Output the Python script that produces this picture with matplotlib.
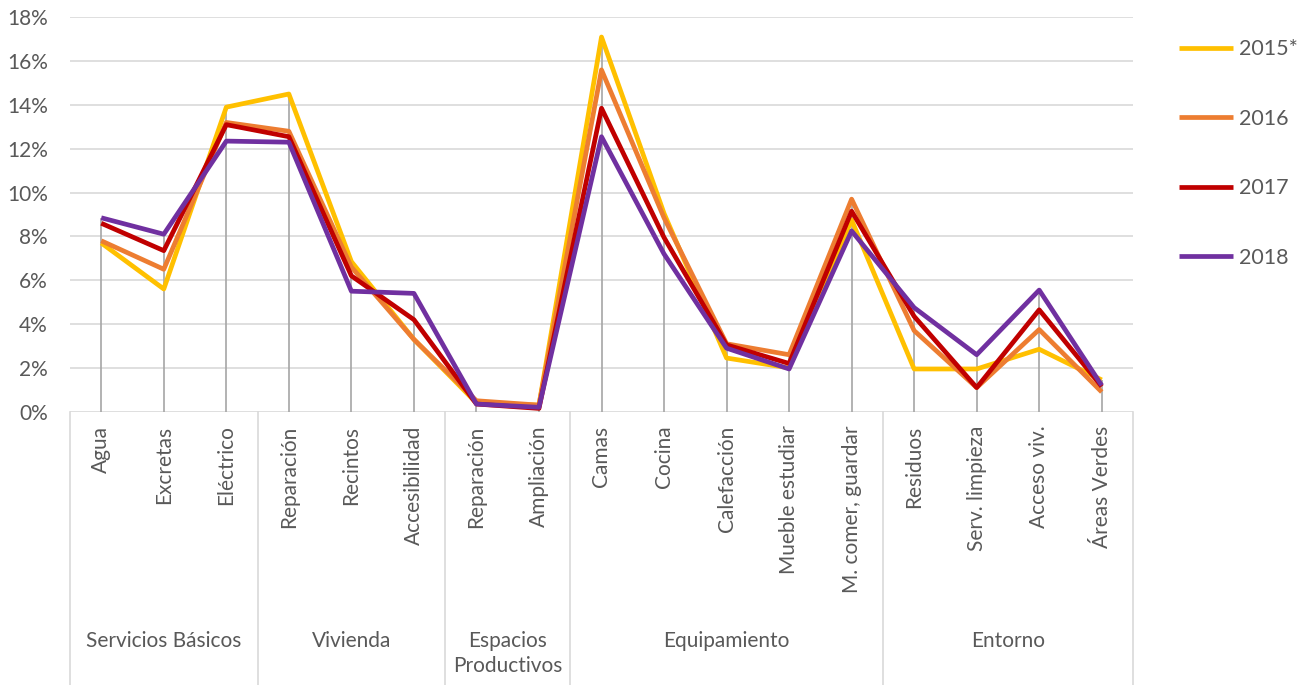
import matplotlib
matplotlib.use("Agg")
import matplotlib.pyplot as plt

plt.rcParams["font.family"] = ["Lato", "DejaVu Sans"]

categories = ["Agua", "Excretas", "Eléctrico", "Reparación", "Recintos",
              "Accesibilidad", "Reparación", "Ampliación", "Camas", "Cocina",
              "Calefacción", "Mueble estudiar", "M. comer, guardar",
              "Residuos", "Serv. limpieza", "Acceso viv.", "Áreas Verdes"]
groups = ["Servicios Básicos", "Vivienda", "Espacios\nProductivos",
          "Equipamiento", "Entorno"]
group_sizes = [3, 3, 2, 5, 4]

series_names = ["2015*", "2016", "2017", "2018"]
y2015 = [7.7, 5.6, 13.9, 14.5, 6.85, 3.3, 0.4, 0.3, 17.1, 9.05, 2.45,
         2.0, 8.75, 1.95, 1.95, 2.85, 1.45]
y2016 = [7.8, 6.5, 13.2, 12.8, 6.6, 3.3, 0.5, 0.3, 15.6, 8.85, 3.1,
         2.6, 9.7, 3.7, 1.1, 3.75, 0.9]
y2017 = [8.6, 7.35, 13.1, 12.55, 6.2, 4.2, 0.35, 0.15, 13.85, 7.95, 3.05,
         2.2, 9.15, 4.35, 1.1, 4.65, 1.15]
y2018 = [8.85, 8.1, 12.35, 12.3, 5.5, 5.4, 0.35, 0.2, 12.55, 7.2, 2.9,
         1.95, 8.25, 4.75, 2.6, 5.55, 1.2]
colors = ["#FFC000", "#ED7D31", "#C00000", "#7030A0"]

W, H = 1307, 685
fig = plt.figure(figsize=(W / 100, H / 100), dpi=100)
x0, x1, ytop, ybot = 70, 1133, 17.3, 411.7
ax = fig.add_axes([x0 / W, 1 - ybot / H, (x1 - x0) / W, (ybot - ytop) / H])

xs = list(range(len(categories)))
all_series = [y2015, y2016, y2017, y2018]

# drop lines from the highest point down to the axis
tops = [max(v) for v in zip(*all_series)]
ax.vlines(xs, 0, tops, color="#A6A6A6", lw=1.2, zorder=2)

for vals, name, c in zip(all_series, series_names, colors):
    ax.plot(xs, vals, color=c, lw=3.4, label=name, zorder=3,
            solid_joinstyle="round", solid_capstyle="butt")

ax.set_xlim(-0.5, len(categories) - 0.5)
ax.set_ylim(0, 18)
ax.set_yticks(range(0, 19, 2))
ax.set_yticklabels([f"{v}%" for v in range(0, 19, 2)])
ax.yaxis.grid(True, color="#D9D9D9", lw=1.2)
ax.set_axisbelow(True)
for s in ax.spines.values():
    s.set_visible(False)
ax.tick_params(axis="y", length=0, pad=16, labelsize=15, labelcolor="#595959")
ax.set_xticks(xs)
ax.set_xticklabels(categories, rotation=90, va="top", ha="center")
ax.tick_params(axis="x", length=0, pad=10, labelsize=15, labelcolor="#595959")

# multi-level category axis frame
tr = ax.get_xaxis_transform()
depth = (H - ybot) / (ybot - ytop)
bounds = [-0.5]
for n in group_sizes:
    bounds.append(bounds[-1] + n)
for b in bounds:
    ax.plot([b, b], [0, -depth], transform=tr, color="#D9D9D9", lw=1.2,
            clip_on=False)
label_y = -(631 - ybot) / (ybot - ytop)
for g, a, b in zip(groups, bounds[:-1], bounds[1:]):
    ax.text((a + b) / 2, label_y, g, transform=tr, ha="center", va="top",
            fontsize=15, color="#595959", linespacing=1.3)

fig.legend(loc="upper left", bbox_to_anchor=(1160 / W, 1 - 20 / H),
           frameon=False, fontsize=15.5, handlelength=2.5,
           handletextpad=0.25, labelspacing=2.3, labelcolor="#595959")

fig.savefig("out.png", dpi=100)
